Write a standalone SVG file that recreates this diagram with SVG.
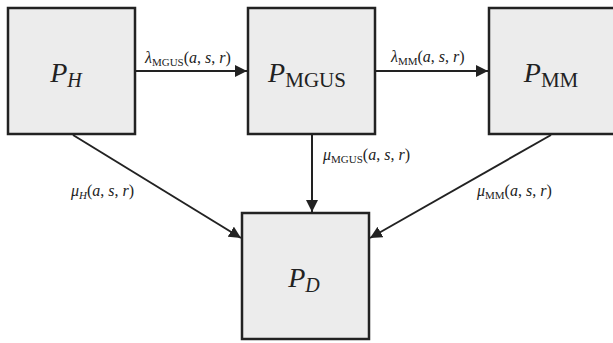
<svg xmlns="http://www.w3.org/2000/svg" width="613" height="343" viewBox="0 0 613 343">
<defs>
<style>
.box{fill:#ececec;stroke:#222;stroke-width:2.5}
.big{font-family:"Liberation Serif","DejaVu Serif",serif;font-size:28px;fill:#222}
.lab{font-family:"Liberation Serif","DejaVu Serif",serif;font-size:16px;fill:#222}
.it{font-style:italic}
.line{stroke:#222;stroke-width:2;fill:none}
</style>
<marker id="arrh" viewBox="0 0 10 10" refX="10" refY="5" markerWidth="12" markerHeight="12" markerUnits="userSpaceOnUse" orient="auto">
<path d="M0,0 L10,5 L0,10 z" fill="#222"/>
</marker>
</defs>
<rect width="613" height="343" fill="#fff"/>
<g id="connectors">
<line class="line" x1="136" y1="71" x2="247" y2="71" marker-end="url(#arrh)"/>
<line class="line" x1="376" y1="71" x2="488" y2="71" marker-end="url(#arrh)"/>
<line class="line" x1="312" y1="135" x2="312" y2="212" marker-end="url(#arrh)"/>
<line class="line" x1="73" y1="135" x2="241" y2="238" marker-end="url(#arrh)"/>
<line class="line" x1="551" y1="135" x2="370" y2="238" marker-end="url(#arrh)"/>
<text class="lab" x="145" y="63"><tspan class="it">λ</tspan><tspan font-size="11" dy="3">MGUS</tspan><tspan dy="-3">(</tspan><tspan class="it">a</tspan>, <tspan class="it">s</tspan>, <tspan class="it">r</tspan>)</text>
<text class="lab" x="391" y="62"><tspan class="it">λ</tspan><tspan font-size="11" dy="3">MM</tspan><tspan dy="-3">(</tspan><tspan class="it">a</tspan>, <tspan class="it">s</tspan>, <tspan class="it">r</tspan>)</text>
<text class="lab" x="323" y="160"><tspan class="it">μ</tspan><tspan font-size="11" dy="3">MGUS</tspan><tspan dy="-3">(</tspan><tspan class="it">a</tspan>, <tspan class="it">s</tspan>, <tspan class="it">r</tspan>)</text>
<text class="lab" x="71" y="196"><tspan class="it">μ</tspan><tspan class="it" font-size="11" dy="3">H</tspan><tspan dy="-3">(</tspan><tspan class="it">a</tspan>, <tspan class="it">s</tspan>, <tspan class="it">r</tspan>)</text>
<text class="lab" x="477" y="196"><tspan class="it">μ</tspan><tspan font-size="11" dy="3">MM</tspan><tspan dy="-3">(</tspan><tspan class="it">a</tspan>, <tspan class="it">s</tspan>, <tspan class="it">r</tspan>)</text>
</g>
<g id="node-H">
<rect class="box" x="8" y="8" width="127" height="126"/>
<text class="big" x="66" y="82" text-anchor="middle"><tspan class="it">P</tspan><tspan class="it" font-size="20" dy="5">H</tspan></text>
</g>
<g id="node-MGUS">
<rect class="box" x="248" y="8" width="127" height="126"/>
<text class="big" x="307" y="82" text-anchor="middle"><tspan class="it">P</tspan><tspan font-size="21" dy="5">MGUS</tspan></text>
</g>
<g id="node-MM">
<rect class="box" x="489" y="8" width="128" height="126"/>
<text class="big" x="551" y="82" text-anchor="middle"><tspan class="it">P</tspan><tspan font-size="21" dy="5">MM</tspan></text>
</g>
<g id="node-D">
<rect class="box" x="242" y="213" width="127" height="126"/>
<text class="big" x="304" y="287" text-anchor="middle"><tspan class="it">P</tspan><tspan class="it" font-size="20" dy="5">D</tspan></text>
</g>
</svg>
